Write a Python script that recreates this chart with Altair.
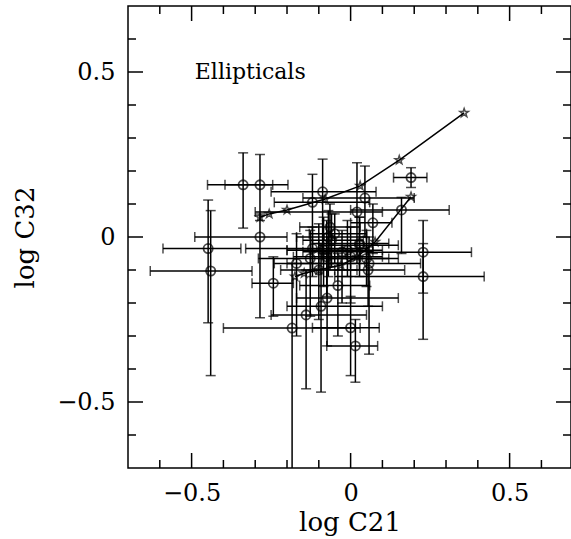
import altair as alt
import pandas as pd

# ---- data ----
px  = [-0.338, -0.285, -0.285, -0.448, -0.440, -0.243, -0.184, -0.127, -0.170, -0.140,
       -0.093, -0.074, -0.040, 0.228, 0.228, 0.000, 0.015, 0.058, 0.050, 0.028,
       0.070, 0.020, 0.160, 0.190, -0.088, -0.120, 0.045, -0.065, -0.050, -0.120,
       0.028, -0.010, -0.027, -0.100, -0.075, -0.060, 0.000, 0.055, -0.085, -0.070]
py  = [0.158, 0.158, 0.000, -0.035, -0.103, -0.140, -0.276, -0.065, -0.080, -0.236,
       -0.210, -0.185, -0.147, -0.046, -0.120, -0.275, -0.330, -0.080, -0.065, -0.020,
       0.043, 0.076, 0.082, 0.180, 0.137, 0.105, 0.118, 0.030, 0.010, -0.035,
       -0.025, -0.040, -0.045, -0.100, -0.060, -0.010, -0.060, -0.100, -0.040, 0.000]
xlo = [-0.450, -0.395, -0.490, -0.590, -0.630, -0.310, -0.400, -0.290, -0.240, -0.250,
       -0.200, -0.170, -0.160, 0.050, -0.050, -0.120, -0.075, -0.200, -0.100, -0.120,
       0.000, -0.300, 0.000, 0.135, -0.250, -0.240, -0.150, -0.160, -0.130, -0.330,
       -0.100, -0.200, -0.150, -0.220, -0.180, -0.150, -0.090, -0.050, -0.200, -0.170]
xhi = [-0.245, -0.197, -0.200, -0.345, -0.310, -0.180, 0.030, 0.120, 0.000, 0.050,
       0.100, 0.150, 0.060, 0.380, 0.420, 0.090, 0.085, 0.220, 0.150, 0.120,
       0.130, 0.100, 0.310, 0.240, 0.080, 0.060, 0.200, 0.030, 0.050, 0.050,
       0.150, 0.100, 0.070, 0.020, 0.030, 0.040, 0.100, 0.170, 0.030, 0.050]
ylo = [0.027, 0.050, -0.245, -0.260, -0.420, -0.240, -0.750, -0.240, -0.300, -0.460,
       -0.470, -0.330, -0.300, -0.170, -0.310, -0.420, -0.440, -0.355, -0.150, -0.120,
       -0.050, -0.080, -0.050, 0.150, -0.050, -0.100, 0.000, -0.100, -0.080, -0.120,
       -0.100, -0.120, -0.200, -0.250, -0.180, -0.090, -0.200, -0.210, -0.150, -0.120]
yhi = [0.255, 0.250, 0.070, 0.112, 0.080, -0.060, -0.080, 0.020, 0.010, -0.100,
       -0.020, -0.050, -0.050, 0.050, -0.020, -0.180, -0.250, 0.000, 0.020, 0.060,
       0.100, 0.225, 0.120, 0.210, 0.236, 0.190, 0.215, 0.100, 0.070, 0.030,
       0.060, 0.050, 0.020, 0.040, 0.050, 0.070, 0.030, -0.030, 0.060, 0.080]

# model tracks (stars joined by lines)
track1_x = [-0.285, -0.256, -0.200, -0.080, 0.030, 0.153, 0.357]
track1_y = [0.060, 0.070, 0.082, 0.115, 0.155, 0.233, 0.376]
track2_x = [-0.175, -0.146, -0.100, -0.030, 0.020, 0.077, 0.190]
track2_y = [-0.120, -0.110, -0.100, -0.085, -0.060, -0.015, 0.122]

label_ticks = [-0.5, 0, 0.5]
major_ticks = [-0.5, 0.0, 0.5]
minor_ticks = [-0.6, -0.4, -0.3, -0.2, -0.1, 0.1, 0.2, 0.3, 0.4, 0.6]

X_DOMAIN = [-0.7, 0.693]
Y_DOMAIN = [-0.7, 0.7]
W, H = 443, 462
FONT = "DejaVu Serif"
SW = 1.5

pts = pd.DataFrame(dict(x=px, y=py, xlo=xlo, xhi=xhi, ylo=ylo, yhi=yhi))
tracks = pd.DataFrame(dict(
    x=track1_x + track2_x,
    y=track1_y + track2_y,
    track=["a"] * len(track1_x) + ["b"] * len(track2_x),
    i=list(range(len(track1_x))) + list(range(len(track2_x))),
))
majx = pd.DataFrame(dict(v=major_ticks))
minx = pd.DataFrame(dict(v=minor_ticks))

xs = alt.Scale(domain=X_DOMAIN, nice=False, zero=False)
ys = alt.Scale(domain=Y_DOMAIN, nice=False, zero=False)

base = alt.Chart(pts)

hbar = base.mark_rule(color="black", strokeWidth=SW, clip=True).encode(
    x=alt.X("xlo:Q", scale=xs, axis=alt.Axis(
        values=label_ticks, format=".1~f", ticks=False, domain=False, grid=False,
        labelFont=FONT, labelFontSize=24, labelPadding=13, labelColor="black",
        title="log C21", titleFont=FONT, titleFontSize=26, titleFontWeight="normal",
        titleColor="black", titlePadding=4)),
    x2="xhi:Q",
    y=alt.Y("y:Q", scale=ys, axis=alt.Axis(
        values=label_ticks, format=".1~f", ticks=False, domain=False, grid=False,
        labelFont=FONT, labelFontSize=24, labelPadding=13, labelColor="black",
        title="log C32", titleFont=FONT, titleFontSize=26, titleFontWeight="normal",
        titleColor="black", titlePadding=18)),
)
vbar = base.mark_rule(color="black", strokeWidth=SW, clip=True).encode(
    x=alt.X("x:Q", scale=xs), y=alt.Y("ylo:Q", scale=ys), y2="yhi:Q")

cap_l = base.mark_tick(color="black", orient="vertical", size=10, thickness=SW, clip=True).encode(
    x=alt.X("xlo:Q", scale=xs), y=alt.Y("y:Q", scale=ys))
cap_r = base.mark_tick(color="black", orient="vertical", size=10, thickness=SW, clip=True).encode(
    x=alt.X("xhi:Q", scale=xs), y=alt.Y("y:Q", scale=ys))
cap_b = base.mark_tick(color="black", orient="horizontal", size=10, thickness=SW, clip=True).encode(
    x=alt.X("x:Q", scale=xs), y=alt.Y("ylo:Q", scale=ys))
cap_t = base.mark_tick(color="black", orient="horizontal", size=10, thickness=SW, clip=True).encode(
    x=alt.X("x:Q", scale=xs), y=alt.Y("yhi:Q", scale=ys))

circles = base.mark_point(shape="circle", filled=False, color="black", size=85,
                          strokeWidth=1.8, clip=True).encode(
    x=alt.X("x:Q", scale=xs), y=alt.Y("y:Q", scale=ys))

STAR = ("M0,-1L0.235,-0.324L0.951,-0.309L0.38,0.124L0.588,0.809L0,0.4"
        "L-0.588,0.809L-0.38,0.124L-0.951,-0.309L-0.235,-0.324Z")
tbase = alt.Chart(tracks)
tlines = tbase.mark_line(color="black", strokeWidth=SW, clip=True).encode(
    x=alt.X("x:Q", scale=xs), y=alt.Y("y:Q", scale=ys), detail="track:N", order="i:Q")
stars = tbase.mark_point(shape=STAR, filled=False, color="black", size=80,
                         strokeWidth=1.5, clip=True).encode(
    x=alt.X("x:Q", scale=xs), y=alt.Y("y:Q", scale=ys))

label = alt.Chart(pd.DataFrame(dict(x=[-0.49], y=[0.5], t=["Ellipticals"]))).mark_text(
    font=FONT, fontSize=22, align="left", baseline="middle", color="black").encode(
    x=alt.X("x:Q", scale=xs), y=alt.Y("y:Q", scale=ys), text="t:N")

def tick_layers(df, length):
    c = alt.Chart(df).mark_rule(color="black", strokeWidth=SW)
    return [
        c.encode(x=alt.X("v:Q", scale=xs), y=alt.value(H), y2=alt.value(H - length)),
        c.encode(x=alt.X("v:Q", scale=xs), y=alt.value(0), y2=alt.value(length)),
        c.encode(y=alt.Y("v:Q", scale=ys), x=alt.value(0), x2=alt.value(length)),
        c.encode(y=alt.Y("v:Q", scale=ys), x=alt.value(W), x2=alt.value(W - length)),
    ]

layers = [hbar, vbar, cap_l, cap_r, cap_b, cap_t, circles, tlines, stars, label]
layers += tick_layers(majx, 15) + tick_layers(minx, 8)

chart = alt.layer(*layers).properties(
    width=W, height=H,
    autosize=alt.AutoSizeParams(type="none"),
    padding={"left": 128, "top": 6, "right": 0, "bottom": 71},
    background="white",
).configure_view(stroke="black", strokeWidth=SW)

chart.save("out.html", embed_options={"renderer": "svg", "actions": False})
